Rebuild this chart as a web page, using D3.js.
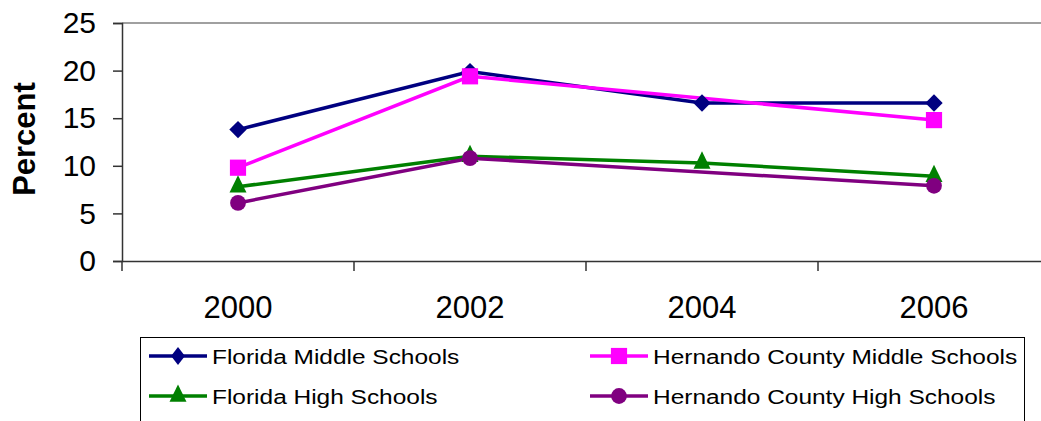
<!DOCTYPE html>
<html>
<head>
<meta charset="utf-8">
<script src="https://cdn.jsdelivr.net/npm/d3@7"></script>
<style>
  body { margin: 0; background: #fff; }
  text { font-family: "Liberation Sans", Arial, sans-serif; }
</style>
</head>
<body>
<svg id="chart" width="1041" height="421"></svg>
<script>
var years = ["2000", "2002", "2004", "2006"];
var yTicks = [0, 5, 10, 15, 20, 25];

// Hernando County has no 2004 value; Excel joins 2002 to 2006 directly
var flMiddle = [13.8, 19.9, 16.6, 16.6];
var hcMiddle = [9.8, 19.4, null, 14.8];
var flHigh = [7.8, 11.0, 10.3, 8.9];
var hcHigh = [6.1, 10.8, null, 7.9];

var seriesNames = ["Florida Middle Schools", "Hernando County Middle Schools",
                   "Florida High Schools", "Hernando County High Schools"];
var seriesColors = ["#000080", "#ff00ff", "#008000", "#800080"];

var diamond = d3.symbol().type(d3.symbolSquare).size(150);
var square = d3.symbol().type(d3.symbolSquare).size(262);
var triangle = d3.symbol().type(d3.symbolTriangle).size(125);
var circle = d3.symbol().type(d3.symbolCircle).size(195);

var series = [
  {name: seriesNames[0], values: flMiddle, color: seriesColors[0], sym: diamond, tf: " rotate(45)"},
  {name: seriesNames[1], values: hcMiddle, color: seriesColors[1], sym: square, tf: ""},
  {name: seriesNames[2], values: flHigh, color: seriesColors[2], sym: triangle, tf: " scale(1,1.18)"},
  {name: seriesNames[3], values: hcHigh, color: seriesColors[3], sym: circle, tf: ""}
];

var svg = d3.select("#chart");

var mLeft = 122, mTop = 23, mRight = 1050, mBottom = 261;

var x = d3.scaleBand().domain(years).range([mLeft, mRight]);
var y = d3.scaleLinear().domain([0, 25]).range([mBottom, mTop]);

// plot border (top)
svg.append("line")
  .attr("x1", mLeft).attr("x2", mRight)
  .attr("y1", mTop).attr("y2", mTop)
  .attr("stroke", "#808080").attr("stroke-width", 1.5);

// y axis
var yAxis = svg.append("g")
  .attr("transform", "translate(" + mLeft + ",0)")
  .call(d3.axisLeft(y).tickValues(yTicks).tickSize(9).tickPadding(17));
yAxis.select(".domain").attr("stroke", "#333").attr("stroke-width", 1.5);
yAxis.selectAll(".tick line").attr("stroke", "#333").attr("stroke-width", 1.5);
yAxis.selectAll("text")
  .attr("font-size", 30).attr("fill", "#000")
  .style("font-family", "'Liberation Sans', Arial, sans-serif");

// x axis
var xAxis = svg.append("g")
  .attr("transform", "translate(0," + mBottom + ")")
  .call(d3.axisBottom(x).tickSize(0).tickPadding(35));
xAxis.select(".domain").attr("stroke", "#333").attr("stroke-width", 1.5);
xAxis.selectAll("text")
  .attr("font-size", 31).attr("fill", "#000")
  .style("font-family", "'Liberation Sans', Arial, sans-serif");

// category separators on x axis
svg.append("g").selectAll("line")
  .data(years)
  .enter()
  .append("line")
  .attr("x1", function(d) { return x(d); })
  .attr("x2", function(d) { return x(d); })
  .attr("y1", mBottom).attr("y2", mBottom + 10)
  .attr("stroke", "#333").attr("stroke-width", 1.5);

// y title
svg.append("text")
  .attr("transform", "translate(35,139) rotate(-90)")
  .attr("text-anchor", "middle")
  .attr("font-size", 31)
  .attr("font-weight", "bold")
  .text("Percent");

var cx = function(i) { return x(years[i]) + x.bandwidth() / 2; };

var line = d3.line()
  .x(function(d) { return cx(d.i); })
  .y(function(d) { return y(d.v); });

var pts = function(vals) {
  return vals.map(function(v, i) { return {v: v, i: i}; })
    .filter(function(d) { return d.v != null; });
};

series.forEach(function(s) {
  svg.append("path")
    .datum(pts(s.values))
    .attr("d", line)
    .attr("fill", "none")
    .attr("stroke", s.color)
    .attr("stroke-width", 3.5);
});

series.forEach(function(s) {
  svg.append("g").selectAll("path")
    .data(pts(s.values))
    .enter()
    .append("path")
    .attr("d", s.sym)
    .attr("transform", function(d) {
      return "translate(" + cx(d.i) + "," + y(d.v) + ")" + s.tf;
    })
    .attr("fill", s.color);
});

// legend
var lg = svg.append("g");
lg.append("rect")
  .attr("x", 140.5).attr("y", 337.5)
  .attr("width", 884).attr("height", 84)
  .attr("fill", "#fff").attr("stroke", "#000").attr("stroke-width", 1);

var legPos = [[149, 356], [590, 356], [149, 396], [590, 396]];
series.forEach(function(s, i) {
  var p = legPos[i];
  var item = lg.append("g").attr("transform", "translate(" + p[0] + "," + p[1] + ")");
  item.append("line")
    .attr("x1", 0).attr("x2", 58)
    .attr("y1", 0).attr("y2", 0)
    .attr("stroke", s.color).attr("stroke-width", 3.5);
  item.append("path")
    .attr("d", s.sym)
    .attr("transform", "translate(29,0)" + (i === 0 ? " scale(0.8,1.05) rotate(45)" : s.tf))
    .attr("fill", s.color);
  item.append("text")
    .attr("transform", "translate(63,7.5) scale(1.165,1)")
    .attr("font-size", 21)
    .text(s.name);
});
</script>
</body>
</html>
